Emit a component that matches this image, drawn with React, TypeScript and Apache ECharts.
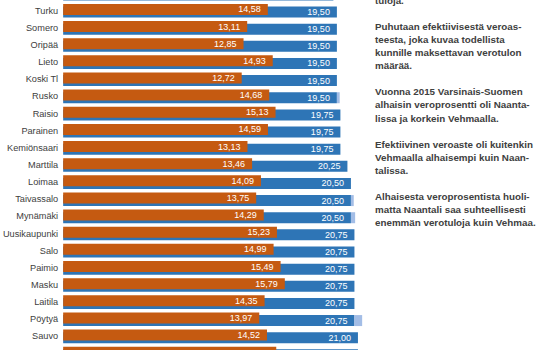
import React, { useEffect, useRef } from 'react';
import * as echarts from 'echarts';

// Rows top to bottom (first and last rows are only partly visible in the crop)
const categories = [' ', 'Turku', 'Somero', 'Oripää', 'Lieto', 'Koski Tl', 'Rusko', 'Raisio', 'Parainen', 'Kemiönsaari', 'Marttila', 'Loimaa', 'Taivassalo', 'Mynämäki', 'Uusikaupunki', 'Salo', 'Paimio', 'Masku', 'Laitila', 'Pöytyä', 'Sauvo', '  '];
// Efektiivinen veroaste (orange)
const effectiveRate = [14.0, 14.58, 13.11, 12.85, 14.93, 12.72, 14.68, 15.13, 14.59, 13.13, 13.46, 14.09, 13.75, 14.29, 15.23, 14.99, 15.49, 15.79, 14.35, 13.97, 14.52, 15.18];
// Tuloveroprosentti (blue)
const taxRate = [19.25, 19.5, 19.5, 19.5, 19.5, 19.5, 19.5, 19.75, 19.75, 19.75, 20.25, 20.5, 20.5, 20.5, 20.75, 20.75, 20.75, 20.75, 20.75, 20.75, 21.0, 21.0];
// Light blue extension at the end of some blue bars
const extension = [0, 0, 0, 0, 0, 0, 0.2, 0, 0, 0, 0, 0, 0.2, 0.3, 0, 0, 0, 0, 0, 0.55, 0, 0];

const sideText = [
  'tuloja.',
  '',
  'Puhutaan efektiivisestä veroas-',
  'teesta, joka kuvaa todellista',
  'kunnille maksettavan verotulon',
  'määrää.',
  '',
  'Vuonna 2015 Varsinais-Suomen',
  'alhaisin veroprosentti oli Naanta-',
  'lissa ja korkein Vehmaalla.',
  '',
  'Efektiivinen veroaste oli kuitenkin',
  'Vehmaalla alhaisempi kuin Naan-',
  'talissa.',
  '',
  'Alhaisesta veroprosentista huoli-',
  'matta Naantali saa suhteellisesti',
  'enemmän verotuloja kuin Vehmaa.',
];

const lastIndex = categories.length - 1;
const fmt = (p: any) =>
  p.dataIndex === 0 || p.dataIndex === lastIndex || !p.value
    ? ''
    : Number(p.value).toFixed(2).replace('.', ',');

const OFFSET = 15;

export default function App() {
  const ref = useRef<HTMLDivElement>(null);
  useEffect(() => {
    document.body.style.margin = '0';
    const chart = echarts.init(ref.current!, undefined, { renderer: 'svg' });
    const valueLabel = {
      show: true,
      position: 'insideRight',
      distance: 7,
      color: '#ffffff',
      fontSize: 9,
      fontFamily: '"Liberation Sans Narrow", "Liberation Sans", sans-serif',
      formatter: fmt,
    };
    chart.setOption({
      animation: false,
      grid: { left: 61.6, top: 0, width: 352.5, height: 377.1, containLabel: false },
      xAxis: { type: 'value', min: 0, max: 25, show: false },
      yAxis: {
        type: 'category',
        inverse: true,
        data: categories,
        axisLine: { show: false },
        axisTick: { show: false },
        splitLine: { show: false },
        axisLabel: {
          color: '#404040',
          fontSize: 9.2,
          fontFamily: '"Liberation Sans", sans-serif',
          margin: 5,
          interval: 0,
        },
      },
      series: [
        {
          type: 'bar',
          name: 'Efektiivinen veroaste',
          data: effectiveRate,
          barWidth: 11,
          barGap: '-76%',
          z: 3,
          itemStyle: { color: '#c55a11' },
          label: valueLabel,
        },
        {
          type: 'bar',
          name: 'Tuloveroprosentti',
          stack: 'tax',
          data: taxRate,
          barWidth: 11,
          barGap: '-76%',
          z: 2,
          itemStyle: { color: '#2e75b6' },
          label: valueLabel,
        },
        {
          type: 'bar',
          name: 'Korotus',
          stack: 'tax',
          data: extension,
          barWidth: 11,
          barGap: '-76%',
          z: 2,
          silent: true,
          itemStyle: { color: '#a3bde6' },
        },
      ],
      graphic: [
        {
          type: 'text',
          x: 375,
          y: -6.4 + OFFSET,
          style: {
            text: sideText.join('\n'),
            fill: '#404040',
            fontSize: 9.8,
            fontWeight: 'bold',
            fontFamily: '"Liberation Sans", sans-serif',
            lineHeight: 13.1,
            verticalAlign: 'top',
          },
        },
      ],
    });
    return () => chart.dispose();
  }, []);
  return (
    <div style={{ position: 'fixed', left: 0, top: 0, width: 540, height: 350, overflow: 'hidden', background: '#fff' }}>
      <div ref={ref} style={{ position: 'absolute', left: 0, top: -OFFSET, width: 540, height: 380 }} />
    </div>
  );
}
